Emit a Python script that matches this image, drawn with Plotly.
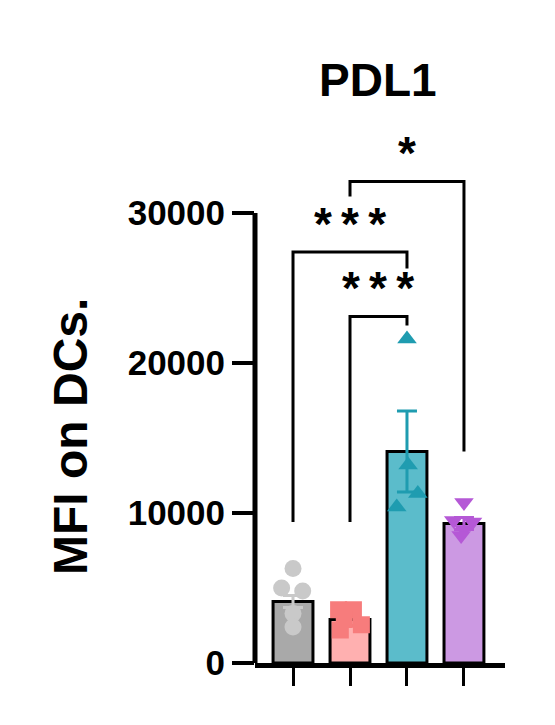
import plotly.graph_objects as go

# group means / sem
groups = ["G1", "G2", "G3", "G4"]
means = [4100, 2900, 14100, 9300]
sems = [400, 400, 2700, 400]

# individual points per group
pts_g1 = [6300, 5000, 4800, 3300, 2400]
pts_g2 = [3550, 3550, 2900, 2550, 2200]
pts_g3 = [21600, 13200, 11300, 10400]
pts_g4 = [10700, 9500, 9400, 8900, 8500]

# comparisons: (left group, right group, bracket height, left leg end, right leg end, label)
comparisons = [
    (0, 2, 27400, 9400, 26300, "*\u2009*\u2009*"),
    (1, 2, 23100, 9400, 22500, "*\u2009*\u2009*"),
    (1, 3, 32100, 31100, 14100, "*"),
]

y_ticks = [0, 10000, 20000, 30000]

bar_colors = ["#a9a9a9", "#ffb0b0", "#5bbccb", "#cc99e3"]
pt_colors = ["#c9c9c9", "#f77c7c", "#1f9cb0", "#b558d6"]
symbols = ["circle", "square", "triangle-up", "triangle-down"]
jitter = [
    [0, -0.2, 0.17, 0, 0],
    [-0.2, 0.06, -0.1, 0.2, -0.17],
    [0, 0.02, 0.19, -0.18],
    [0, -0.18, 0.15, 0, -0.05],
]

FONT = "Liberation Sans"

fig = go.Figure()
xs = list(range(len(groups)))
fig.add_bar(
    x=xs, y=means, width=0.7,
    marker=dict(color=bar_colors, line=dict(color="black", width=3)),
    showlegend=False,
)
# error bars in the group colour
for i, (m, s) in enumerate(zip(means, sems)):
    fig.add_scatter(
        x=[i], y=[m], mode="markers", marker=dict(size=1, color=pt_colors[i], opacity=0),
        error_y=dict(type="data", array=[s], color=pt_colors[i], thickness=3, width=10),
        showlegend=False,
    )

for i, pts in enumerate([pts_g1, pts_g2, pts_g3, pts_g4]):
    fig.add_scatter(
        x=[i + d for d in jitter[i]], y=pts, mode="markers",
        marker=dict(symbol=symbols[i], size=17, color=pt_colors[i], line=dict(width=0)),
        showlegend=False, cliponaxis=False,
    )

# significance brackets
for a, b, h, la, lb, label in comparisons:
    fig.add_scatter(
        x=[a, a, b, b], y=[la, h, h, lb], mode="lines",
        line=dict(color="black", width=3), showlegend=False, hoverinfo="skip",
    )
    fig.add_annotation(
        x=(a + b) / 2, y=h + 1900, text="<b>" + label + "</b>", showarrow=False,
        font=dict(family=FONT, size=46, color="black"),
        xanchor="center", yanchor="middle",
    )

# y axis line only up to 30000
fig.add_shape(type="line", xref="paper", yref="y", x0=0, x1=0, y0=0, y1=30000,
              line=dict(color="black", width=5))

fig.add_annotation(
    text="<b>PDL1</b>", xref="paper", yref="paper", x=0.49, y=1.11,
    xanchor="center", yanchor="middle",
    showarrow=False, font=dict(family=FONT, size=46, color="black"),
)
fig.add_annotation(
    text="<b>MFI on DCs.</b>", xref="paper", yref="paper", x=-0.736, y=0.4305,
    xanchor="center", yanchor="middle",
    textangle=-90, showarrow=False, font=dict(family=FONT, size=48, color="black"),
)

fig.update_xaxes(
    range=[-0.667, 3.72], tickvals=xs, showticklabels=False,
    ticks="outside", ticklen=18, tickwidth=3, tickcolor="black",
    showline=True, linewidth=5, linecolor="black", showgrid=False, zeroline=False,
)
fig.update_yaxes(
    range=[0, 35000], tickvals=y_ticks, ticktext=["<b>%d</b>" % t for t in y_ticks],
    ticks="outside", ticklen=22, tickwidth=4, tickcolor="black",
    showline=False, showgrid=False, zeroline=False,
    tickfont=dict(family=FONT, size=35, color="black"),
    ticklabelstandoff=0,
)
# the page body adds 8px on the left/top, so the figure is 8px smaller
fig.update_layout(
    width=547, height=717,
    margin=dict(l=247, r=50, t=130, b=62),
    plot_bgcolor="white", paper_bgcolor="white",
    font=dict(family=FONT, color="black"),
)

fig.write_html("out.html")
